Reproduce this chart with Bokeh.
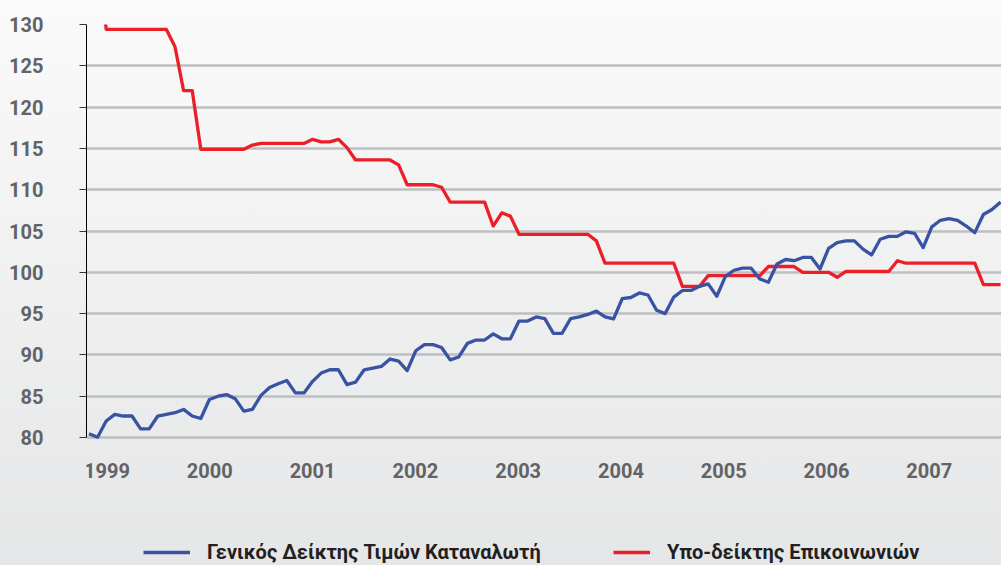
from bokeh.plotting import figure
from bokeh.models import FixedTicker, Legend, LegendItem
from bokeh.core.properties import value
from bokeh.embed import file_html
from bokeh.resources import INLINE

# ---- data (monthly index values) ----
months = list(range(107))

cpi = [80.45, 80.04, 82.0, 82.8, 82.6, 82.6, 81.05, 81.05, 82.6, 82.8,
       83.0, 83.4, 82.6, 82.3, 84.6, 85.0, 85.2, 84.7, 83.2, 83.4,
       85.1, 86.05, 86.5, 86.9, 85.4, 85.4, 86.8, 87.8, 88.2, 88.2,
       86.4, 86.7, 88.2, 88.4, 88.6, 89.5, 89.25, 88.1, 90.5, 91.25,
       91.25, 90.9, 89.4, 89.75, 91.4, 91.8, 91.8, 92.55, 91.95, 91.95,
       94.1, 94.1, 94.6, 94.4, 92.6, 92.6, 94.4, 94.6, 94.9, 95.3,
       94.6, 94.35, 96.8, 96.95, 97.5, 97.25, 95.4, 95.0, 97.0, 97.8,
       97.8, 98.3, 98.6, 97.1, 99.5, 100.25, 100.5, 100.5, 99.2, 98.8,
       101.0, 101.55, 101.4, 101.8, 101.8, 100.4, 102.9, 103.6, 103.8, 103.8,
       102.8, 102.1, 104.0, 104.35, 104.35, 104.9, 104.7, 103.0, 105.5, 106.3,
       106.5, 106.3, 105.6, 104.8, 107.0, 107.6, 108.5]

comm = [140.0, 140.0, 129.4, 129.4, 129.4, 129.4, 129.4, 129.4, 129.4, 129.4,
        127.3, 122.0, 122.0, 114.9, 114.9, 114.9, 114.9, 114.9, 114.9, 115.4,
        115.6, 115.6, 115.6, 115.6, 115.6, 115.6, 116.1, 115.8, 115.8, 116.1,
        115.1, 113.6, 113.6, 113.6, 113.6, 113.6, 113.0, 110.6, 110.6, 110.6,
        110.6, 110.3, 108.5, 108.5, 108.5, 108.5, 108.5, 105.6, 107.2, 106.8,
        104.6, 104.6, 104.6, 104.6, 104.6, 104.6, 104.6, 104.6, 104.6, 103.8,
        101.1, 101.1, 101.1, 101.1, 101.1, 101.1, 101.1, 101.1, 101.1, 98.3,
        98.3, 98.3, 99.6, 99.6, 99.6, 99.6, 99.6, 99.6, 99.6, 100.7,
        100.7, 100.7, 100.7, 100.0, 100.0, 100.0, 100.0, 99.4, 100.1, 100.1,
        100.1, 100.1, 100.1, 100.1, 101.4, 101.1, 101.1, 101.1, 101.1, 101.1,
        101.1, 101.1, 101.1, 101.1, 98.5, 98.5, 98.5]

year_labels = ["1999", "2000", "2001", "2002", "2003", "2004", "2005", "2006", "2007"]
y_ticks = [80, 85, 90, 95, 100, 105, 110, 115, 120, 125, 130]

series_names = ["Γενικός Δείκτης Τιμών Καταναλωτή", "Υπο-δείκτης Επικοινωνιών"]

BLUE = "#3953a4"
RED = "#ec1f28"
FONT = "Roboto"

W, H = 1001, 565
LEFT, TOP = 86, 24
PX_PER_UNIT = 413 / 50.0      # vertical scale
PX_PER_MONTH = 8.6            # horizontal scale

y_end = 130
y_start = y_end - (H - TOP) / PX_PER_UNIT
x_start = -0.29
x_end = x_start + (W - LEFT) / PX_PER_MONTH

year_ticks = [2.1 + 11.95 * k for k in range(len(year_labels))]
label_y = 80 - 33 / PX_PER_UNIT

p = figure(width=W, height=H, x_range=(x_start, x_end), y_range=(y_start, y_end),
           output_backend="svg", toolbar_location=None,
           min_border_left=LEFT, min_border_top=TOP, min_border_bottom=0,
           min_border_right=0)

p.background_fill_alpha = 0
p.border_fill_alpha = 0
p.outline_line_color = None
p.styles = {"background-image": "linear-gradient(to bottom, #fafafa, #e5e6e7)"}

# grid
p.xgrid.grid_line_color = None
p.ygrid.grid_line_color = "#bdbec1"
p.ygrid.grid_line_width = 2.5

# y axis
p.yaxis.ticker = FixedTicker(ticks=y_ticks)
p.yaxis.bounds = (80, 130)
p.yaxis.axis_line_color = "#000000"
p.yaxis.axis_line_width = 1
p.yaxis.major_tick_out = 7
p.yaxis.major_tick_in = 0
p.yaxis.major_tick_line_color = "#333333"
p.yaxis.minor_tick_line_color = None
p.yaxis.major_label_standoff = 36
p.yaxis.major_label_text_font = FONT
p.yaxis.major_label_text_font_style = "bold"
p.yaxis.major_label_text_font_size = "20px"
p.yaxis.major_label_text_color = "#626366"

# x axis drawn as text labels inside the frame
p.xaxis.visible = False
p.text(x=year_ticks, y=[label_y] * len(year_ticks), text=year_labels,
       text_align="center", text_baseline="middle",
       text_font=value(FONT), text_font_style="bold", text_font_size="20px",
       text_color="#626366")

r_comm = p.line(months, comm, line_color=RED, line_width=3.3, line_join="round")
r_cpi = p.line(months, cpi, line_color=BLUE, line_width=3.3, line_join="round")


def make_legend(item_label, renderer, x, glyph_w):
    lg = Legend(items=[LegendItem(label=item_label, renderers=[renderer])],
                location=(x, 1), orientation="horizontal",
                padding=0, margin=0, glyph_width=glyph_w, glyph_height=22,
                label_standoff=17, label_height=22,
                border_line_color=None, background_fill_alpha=0,
                label_text_font=FONT, label_text_font_style="bold",
                label_text_font_size="20px", label_text_color="#231f20")
    return lg


p.add_layout(make_legend(series_names[0], r_cpi, 57, 47))
p.add_layout(make_legend(series_names[1], r_comm, 527, 37))

open("out.html", "w").write(file_html(p, INLINE))
